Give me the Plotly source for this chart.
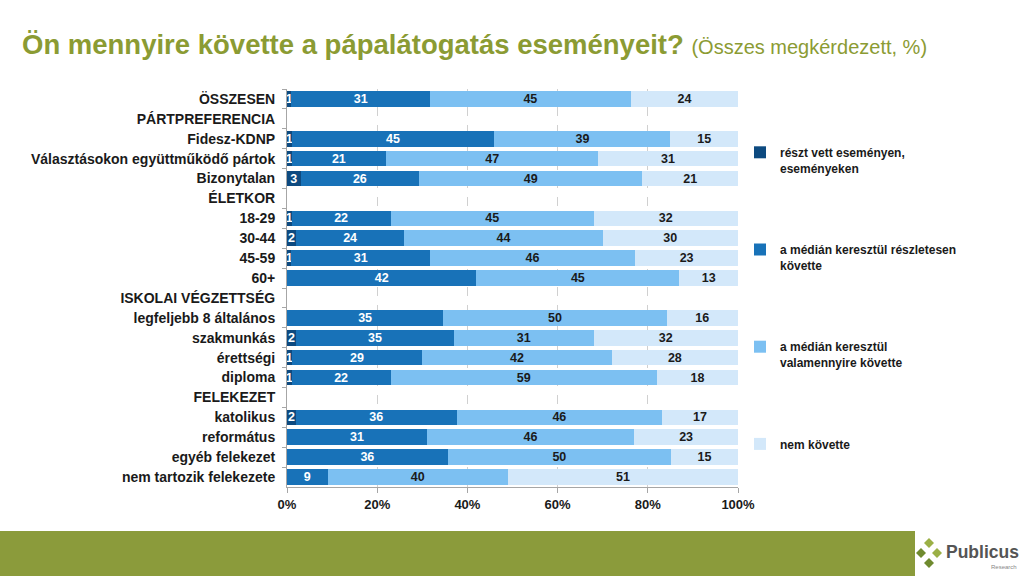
import plotly.graph_objects as go

categories = [
    "ÖSSZESEN", "PÁRTPREFERENCIA", "Fidesz-KDNP", "Választásokon együttműködő pártok",
    "Bizonytalan", "ÉLETKOR", "18-29", "30-44", "45-59", "60+",
    "ISKOLAI VÉGZETTSÉG", "legfeljebb 8 általános", "szakmunkás", "érettségi", "diploma",
    "FELEKEZET", "katolikus", "református", "egyéb felekezet", "nem tartozik felekezete",
]
reszt_vett = [1, None, 1, 1, 3, None, 1, 2, 1, 0, None, 0, 2, 1, 1, None, 2, 0, 0, 0]
reszletesen = [31, None, 45, 21, 26, None, 22, 24, 31, 42, None, 35, 35, 29, 22, None, 36, 31, 36, 9]
valamennyire = [45, None, 39, 47, 49, None, 45, 44, 46, 45, None, 50, 31, 42, 59, None, 46, 46, 50, 40]
nem_kovette = [24, None, 15, 31, 21, None, 32, 30, 23, 13, None, 16, 32, 28, 18, None, 17, 23, 15, 51]

series_names = [
    "részt vett eseményen,<br>eseményeken",
    "a médián keresztül részletesen<br>követte",
    "a médián keresztül<br>valamennyire követte",
    "nem követte",
]
series_values = [reszt_vett, reszletesen, valamennyire, nem_kovette]
colors = ["#0d4a80", "#1872b8", "#7cc0f2", "#d3e8fa"]
text_colors = ["white", "white", "#1a1a1a", "#1a1a1a"]
tick_vals = [0, 20, 40, 60, 80, 100]
tick_text = ["0%", "20%", "40%", "60%", "80%", "100%"]

FONT = "Liberation Sans, Arial, sans-serif"
fig = go.Figure()
for i, (name, vals) in enumerate(zip(series_names, series_values)):
    txt = ["" if (v is None or v == 0) else str(v) for v in vals]
    fig.add_trace(go.Bar(
        y=categories, x=vals, name=name, orientation="h",
        marker=dict(color=colors[i], line=dict(width=0)),
        text=txt, textposition="inside", insidetextanchor="middle", textangle=0,
        textfont=dict(color=text_colors[i], size=12.5, family=FONT, weight="bold"),
        legendgroup=f"g{i}", hoverinfo="skip", cliponaxis=False,
    ))

W, H = 1024, 576
L, R, T, B = 287, 738, 89, 487
def px(x):
    return (x - L) / (R - L)
def py(y):
    return (B - y) / (B - T)

shapes = [
    dict(type="rect", xref="paper", yref="paper", x0=px(-5), x1=px(915), y0=py(531), y1=py(580),
         fillcolor="#8b9b3b", line=dict(width=0), layer="below"),
]
# logo diamonds
for cx, cy, col in [(929, 543, "#9bb046"), (921, 553, "#6f8a2e"), (937, 553, "#9bb046"), (929, 563, "#6f8a2e")]:
    d = 5
    path = (f"M {px(cx)} {py(cy-d)} L {px(cx+d)} {py(cy)} L {px(cx)} {py(cy+d)} "
            f"L {px(cx-d)} {py(cy)} Z")
    shapes.append(dict(type="path", xref="paper", yref="paper", path=path,
                       fillcolor=col, line=dict(width=0)))

annotations = [
    dict(xref="paper", yref="paper", x=px(944), y=py(552), xanchor="left", yanchor="middle",
         text="<b>Publicus</b>", showarrow=False, font=dict(family=FONT, size=17.5, color="#555555")),
    dict(xref="paper", yref="paper", x=px(1019), y=py(567), xanchor="right", yanchor="middle",
         text="Research", showarrow=False, font=dict(family=FONT, size=6, color="#888888")),
]

fig.update_layout(
    width=W, height=H,
    barmode="stack", barnorm="percent", bargap=0.22,
    margin=dict(l=L, r=W - R, t=T, b=H - B),
    paper_bgcolor="white", plot_bgcolor="white",
    font=dict(family=FONT, size=12, color="#1a1a1a"),
    uniformtext=dict(minsize=12.5, mode="show"),
    title=dict(
        text="<b>Ön mennyire követte a pápalátogatás eseményeit?</b> "
             "<span style='font-size:20px'>(Összes megkérdezett, %)</span>",
        xref="container", yref="container", x=22 / W, xanchor="left",
        y=1 - 44 / H, yanchor="middle",
        font=dict(family="Liberation Sans Narrow, Arial Narrow, Liberation Sans, sans-serif",
                  size=27.5, color="#8b9b33"),
    ),
    xaxis=dict(
        range=[0, 100.001], tickvals=tick_vals, ticktext=tick_text,
        showgrid=True, gridcolor="#d0d0d0", griddash="dash", gridwidth=1,
        showline=True, linecolor="#a6a6a6", linewidth=1,
        ticks="outside", ticklen=5, tickcolor="#a6a6a6",
        tickfont=dict(family=FONT, size=13, color="#1a1a1a", weight="bold"),
        zeroline=False, fixedrange=True,
    ),
    yaxis=dict(
        categoryorder="array", categoryarray=categories, autorange="reversed",
        showline=True, linecolor="#a6a6a6", linewidth=1,
        ticks="outside", ticklen=4, tickcolor="#a6a6a6", tickson="boundaries",
        tickfont=dict(family=FONT, size=14, color="#1a1a1a", weight="bold"),
        ticklabelstandoff=8, showgrid=False, fixedrange=True,
    ),
    legend=dict(
        x=px(740), y=py(138), xanchor="left", yanchor="top",
        traceorder="grouped", tracegroupgap=63, valign="top",
        font=dict(family=FONT, size=12, color="#1a1a1a", weight="bold"),
        itemwidth=30, bgcolor="rgba(0,0,0,0)",
    ),
    shapes=shapes, annotations=annotations,
)

fig.write_html("out.html", config={"displayModeBar": False},
               post_script="document.body.style.margin='0';")
